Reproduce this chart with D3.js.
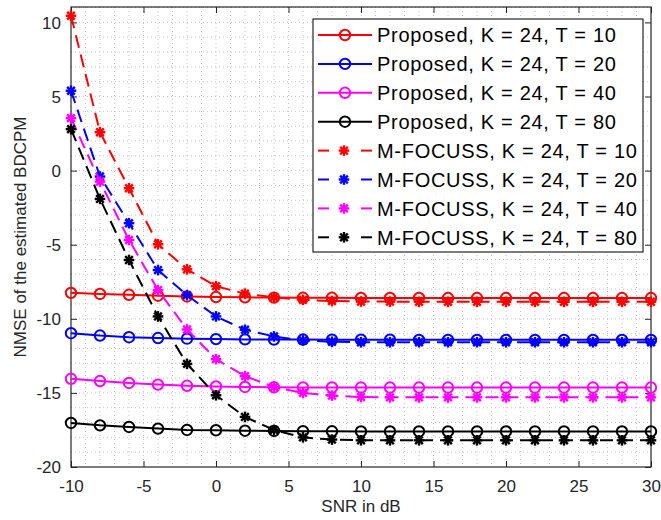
<!DOCTYPE html>
<html>
<head>
<meta charset="utf-8">
<script src="https://cdn.jsdelivr.net/npm/d3@7"></script>
<style>
  body { margin: 0; background: #fff; }
  text { font-family: "Liberation Sans", Arial, sans-serif; }
</style>
</head>
<body>
<div id="chart"></div>
<script>
// SNR points (dB)
const snr = [-10, -8, -6, -4, -2, 0, 2, 4, 6, 8, 10, 12, 14, 16, 18, 20, 22, 24, 26, 28, 30];

// Proposed method
const prop10 = [-8.25, -8.32, -8.38, -8.44, -8.49, -8.53, -8.55, -8.57, -8.58, -8.58, -8.59, -8.59, -8.59, -8.6, -8.6, -8.6, -8.6, -8.6, -8.6, -8.6, -8.6];
const prop20 = [-10.97, -11.13, -11.24, -11.3, -11.34, -11.37, -11.39, -11.4, -11.4, -11.41, -11.41, -11.41, -11.42, -11.42, -11.42, -11.42, -11.42, -11.42, -11.42, -11.42, -11.42];
const prop40 = [-14.05, -14.2, -14.33, -14.44, -14.52, -14.56, -14.6, -14.62, -14.63, -14.63, -14.64, -14.64, -14.64, -14.64, -14.64, -14.64, -14.64, -14.64, -14.64, -14.64, -14.64];
const prop80 = [-17.03, -17.19, -17.3, -17.41, -17.5, -17.52, -17.55, -17.57, -17.58, -17.59, -17.6, -17.6, -17.6, -17.6, -17.6, -17.6, -17.6, -17.6, -17.6, -17.6, -17.6];

// M-FOCUSS
const mf10 = [10.45, 2.59, -1.19, -4.97, -6.66, -7.8, -8.3, -8.55, -8.72, -8.8, -8.83, -8.84, -8.85, -8.85, -8.85, -8.85, -8.85, -8.85, -8.85, -8.85, -8.85];
const mf20 = [5.39, -0.4, -3.55, -6.71, -8.4, -9.84, -10.74, -11.19, -11.46, -11.55, -11.58, -11.58, -11.58, -11.58, -11.58, -11.58, -11.58, -11.58, -11.58, -11.58, -11.58];
const mf40 = [3.54, -0.74, -4.68, -8.06, -10.72, -12.72, -13.87, -14.6, -15.0, -15.18, -15.28, -15.3, -15.3, -15.3, -15.3, -15.3, -15.3, -15.3, -15.3, -15.3, -15.3];
const mf80 = [2.8, -1.91, -6.03, -9.84, -13.04, -15.16, -16.62, -17.5, -18.0, -18.15, -18.2, -18.2, -18.2, -18.2, -18.2, -18.2, -18.2, -18.2, -18.2, -18.2, -18.2];

const xTicks = [-10, -5, 0, 5, 10, 15, 20, 25, 30];
const yTicks = [-20, -15, -10, -5, 0, 5, 10];

const series = [
  {name: "Proposed, K = 24, T = 10", values: prop10, color: "#ff0000", kind: "circle"},
  {name: "Proposed, K = 24, T = 20", values: prop20, color: "#0000ff", kind: "circle"},
  {name: "Proposed, K = 24, T = 40", values: prop40, color: "#ff00ff", kind: "circle"},
  {name: "Proposed, K = 24, T = 80", values: prop80, color: "#000000", kind: "circle"},
  {name: "M-FOCUSS, K = 24, T = 10", values: mf10, color: "#ff0000", kind: "star"},
  {name: "M-FOCUSS, K = 24, T = 20", values: mf20, color: "#0000ff", kind: "star"},
  {name: "M-FOCUSS, K = 24, T = 40", values: mf40, color: "#ff00ff", kind: "star"},
  {name: "M-FOCUSS, K = 24, T = 80", values: mf80, color: "#000000", kind: "star"}
];

const W = 661, H = 520;
const margin = {top: 7, right: 10, bottom: 53, left: 71};
const width = W - margin.left - margin.right,
      height = H - margin.top - margin.bottom;

const svg = d3.select("#chart").append("svg")
  .attr("width", W).attr("height", H);

const g = svg.append("g")
  .attr("transform", "translate(" + margin.left + "," + margin.top + ")");

const x = d3.scaleLinear().domain([-10, 30]).range([0, width]);
const y = d3.scaleLinear().domain([-20, 11.04]).range([height, 0]);

// grid (dotted, minor every 1 unit)
const gridColor = "#c4c4c4";
g.append("g").selectAll("line")
  .data(d3.range(-9, 30))
  .enter().append("line")
    .attr("x1", d => x(d)).attr("x2", d => x(d))
    .attr("y1", 0).attr("y2", height)
    .attr("stroke", gridColor).attr("stroke-width", 1)
    .attr("stroke-dasharray", "1,3");
g.append("g").selectAll("line")
  .data(d3.range(-19, 12))
  .enter().append("line")
    .attr("x1", 0).attr("x2", width)
    .attr("y1", d => y(d)).attr("y2", d => y(d))
    .attr("stroke", gridColor).attr("stroke-width", 1)
    .attr("stroke-dasharray", "1,3");

// axes
const axisColor = "#262626";
const xb = g.append("g").attr("transform", "translate(0," + height + ")")
  .call(d3.axisBottom(x).tickValues(xTicks).tickSizeInner(-6).tickSizeOuter(0).tickPadding(13));
const xt = g.append("g")
  .call(d3.axisTop(x).tickValues(xTicks).tickSizeInner(-6).tickSizeOuter(0).tickFormat(""));
const yl = g.append("g")
  .call(d3.axisLeft(y).tickValues(yTicks).tickSizeInner(-6).tickSizeOuter(0).tickPadding(10));
const yr = g.append("g").attr("transform", "translate(" + width + ",0)")
  .call(d3.axisRight(y).tickValues(yTicks).tickSizeInner(-6).tickSizeOuter(0).tickFormat(""));

[xb, xt, yl, yr].forEach(a => {
  a.select(".domain").remove();
  a.selectAll("line").attr("stroke", axisColor);
  a.selectAll("text").attr("fill", "#262626").style("font-size", "17px")
    .text(function() { return d3.select(this).text().replace("\u2212", "-"); });
});
yl.selectAll("text").attr("dy", "0.35em");

g.append("rect")
  .attr("x", 0).attr("y", 0).attr("width", width).attr("height", height)
  .attr("fill", "none").attr("stroke", axisColor).attr("stroke-width", 1.2);

// axis labels
svg.append("text")
  .attr("x", margin.left + width / 2).attr("y", 512)
  .attr("text-anchor", "middle").attr("fill", "#262626")
  .style("font-size", "17px").text("SNR in dB");
svg.append("text")
  .attr("transform", "translate(26," + (margin.top + height / 2) + ") rotate(-90)")
  .attr("text-anchor", "middle").attr("fill", "#262626")
  .style("font-size", "17px").text("NMSE of the estimated BDCPM");

// marker helpers
function drawStar(sel, cx, cy, color) {
  const r = 5.3;
  const k = r * 0.72;
  const segs = [[-r, 0, r, 0], [0, -r, 0, r], [-k, -k, k, k], [-k, k, k, -k]];
  segs.forEach(s => {
    sel.append("line")
      .attr("x1", cx + s[0]).attr("y1", cy + s[1])
      .attr("x2", cx + s[2]).attr("y2", cy + s[3])
      .attr("stroke", color).attr("stroke-width", 2.4);
  });
}
function drawCircle(sel, cx, cy, color) {
  sel.append("circle")
    .attr("cx", cx).attr("cy", cy).attr("r", 5.2)
    .attr("fill", "none").attr("stroke", color).attr("stroke-width", 2);
}

const line = d3.line().x((d, i) => x(snr[i])).y(d => y(d));

series.forEach(s => {
  const sg = g.append("g");
  sg.append("path")
    .datum(s.values)
    .attr("d", line)
    .attr("fill", "none")
    .attr("stroke", s.color)
    .attr("stroke-width", 2)
    .attr("stroke-dasharray", s.kind === "star" ? "13,7" : null);
  s.values.forEach((v, i) => {
    if (s.kind === "star") drawStar(sg, x(snr[i]), y(v), s.color);
    else drawCircle(sg, x(snr[i]), y(v), s.color);
  });
});

// legend
const lg = svg.append("g").attr("transform", "translate(313,19)");
lg.append("rect")
  .attr("x", 0).attr("y", 0).attr("width", 330).attr("height", 233)
  .attr("fill", "#fff").attr("stroke", axisColor).attr("stroke-width", 1.2);
series.forEach((s, i) => {
  const cy = 16 + i * 28.9;
  const row = lg.append("g");
  if (s.kind === "circle") {
    row.append("line").attr("x1", 5).attr("x2", 59).attr("y1", cy).attr("y2", cy)
      .attr("stroke", s.color).attr("stroke-width", 2);
    drawCircle(row, 32, cy, s.color);
  } else {
    row.append("line").attr("x1", 5).attr("x2", 16).attr("y1", cy).attr("y2", cy)
      .attr("stroke", s.color).attr("stroke-width", 2);
    row.append("line").attr("x1", 48).attr("x2", 59).attr("y1", cy).attr("y2", cy)
      .attr("stroke", s.color).attr("stroke-width", 2);
    drawStar(row, 31, cy, s.color);
  }
  row.append("text")
    .attr("x", 64).attr("y", cy).attr("dy", "0.36em")
    .attr("fill", "#000").style("font-size", "20px")
    .style("letter-spacing", "0.7px")
    .text(s.name);
});
</script>
</body>
</html>
